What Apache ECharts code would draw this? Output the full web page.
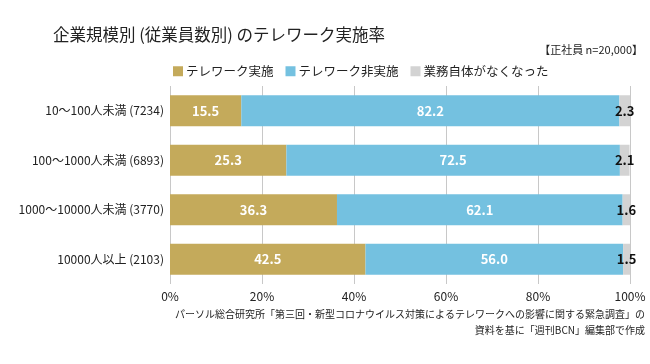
<!DOCTYPE html>
<html><head><meta charset="utf-8">
<script src="https://cdn.jsdelivr.net/npm/echarts@6/dist/echarts.min.js"></script>
<style>html,body{margin:0;padding:0;background:#fff;}#c{width:650px;height:364px;}</style>
</head><body><div id="c"></div>
<script>
const categories = ['10～100人未満 (7234)', '100～1000人未満 (6893)', '1000～10000人未満 (3770)', '10000人以上 (2103)'];
const seriesNames = ['テレワーク実施', 'テレワーク非実施', '業務自体がなくなった'];
const teleworkDone = [15.5, 25.3, 36.3, 42.5];
const teleworkNot = [82.2, 72.5, 62.1, 56.0];
const workGone = [2.3, 2.1, 1.6, 1.5];
const xTicks = [0, 20, 40, 60, 80, 100];

const font = '"Noto Sans CJK JP", "Noto Sans", sans-serif';
const chart = echarts.init(document.getElementById('c'), null, {renderer: 'canvas'});
chart.setOption({
  backgroundColor: '#fff',
  animation: false,
  textStyle: {fontFamily: font},
  title: [
    {text: '企業規模別 (従業員数別) のテレワーク実施率', left: 48, top: 21,
     textStyle: {fontSize: 16.5, fontWeight: 'normal', color: '#222', fontFamily: font}},
    {text: '【正社員 n=20,000】', right: 2, top: 39,
     textStyle: {fontSize: 11, fontWeight: 'normal', color: '#222', fontFamily: font}}
  ],
  graphic: [
    {type: 'text', right: 5, top: 309,
     style: {text: 'パーソル総合研究所「第三回・新型コロナウイルス対策によるテレワークへの影響に関する緊急調査」の', font: '10px ' + font, fill: '#222'}},
    {type: 'text', right: 5, top: 325,
     style: {text: '資料を基に「週刊BCN」編集部で作成', font: '10px ' + font, fill: '#222'}}
  ],
  legend: {
    data: seriesNames, left: 168, top: 60, itemWidth: 10, itemHeight: 10, itemGap: 12,
    icon: 'rect', textStyle: {fontSize: 12.5, color: '#222', padding: [0, 0, 0, -2]}
  },
  grid: {left: 170, right: 20, top: 86, bottom: 80},
  xAxis: {
    type: 'value', min: 0, max: 100, interval: 20,
    axisLabel: {formatter: v => xTicks.includes(v) ? v + '%' : '', fontSize: 12, color: '#222', margin: 6},
    splitLine: {show: true, lineStyle: {color: '#c8c8c8', width: 1}},
    axisLine: {show: false}, axisTick: {show: false}
  },
  yAxis: {
    type: 'category', data: categories, inverse: true,
    axisLabel: {fontSize: 12, color: '#222', margin: 6},
    axisLine: {show: false}, axisTick: {show: false}
  },
  series: [
    {name: seriesNames[0], type: 'bar', stack: 's', data: teleworkDone, barWidth: 31,
     itemStyle: {color: '#c4aa5b'},
     label: {show: true, position: 'inside', color: '#fff', fontSize: 13, fontWeight: 'bold', formatter: p => p.value.toFixed(1)}},
    {name: seriesNames[1], type: 'bar', stack: 's', data: teleworkNot,
     itemStyle: {color: '#74c1e0'},
     label: {show: true, position: 'inside', color: '#fff', fontSize: 13, fontWeight: 'bold', formatter: p => p.value.toFixed(1)}},
    {name: seriesNames[2], type: 'bar', stack: 's', data: workGone,
     itemStyle: {color: '#d3d3d3'},
     label: {show: true, position: 'inside', color: '#111', fontSize: 13, fontWeight: 'bold', formatter: p => p.value.toFixed(1)}}
  ]
});
</script></body></html>
